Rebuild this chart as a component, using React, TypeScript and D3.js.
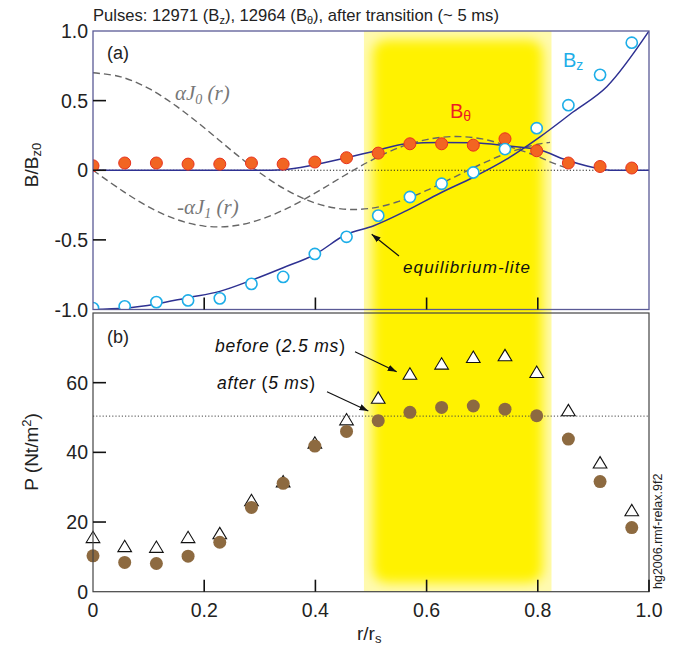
import React from "react";
import * as d3 from "d3";

// radial positions of the probe points (r/rs)
const rPts = [0, 0.057, 0.114, 0.171, 0.228, 0.285, 0.342, 0.399, 0.456, 0.513, 0.57, 0.627, 0.684, 0.741, 0.798, 0.855, 0.912, 0.969];

// panel (a) measured fields
const bTheta = [0.032, 0.052, 0.052, 0.044, 0.044, 0.052, 0.044, 0.059, 0.09, 0.123, 0.19, 0.19, 0.18, 0.226, 0.14, 0.052, 0.027, 0.016];
const bZ = [-0.99, -0.977, -0.947, -0.935, -0.92, -0.816, -0.766, -0.601, -0.478, -0.326, -0.192, -0.097, -0.016, 0.152, 0.302, 0.467, 0.685, 0.916];

// equilibrium-lite fits
const fitBzR = [0, 0.057, 0.114, 0.171, 0.228, 0.285, 0.342, 0.399, 0.456, 0.504, 0.564, 0.624, 0.684, 0.744, 0.804, 0.864, 0.924, 1.0];
const fitBz = [-1.0, -0.99, -0.96, -0.915, -0.87, -0.79, -0.7, -0.605, -0.46, -0.4, -0.29, -0.165, -0.05, 0.08, 0.24, 0.42, 0.6, 1.0];
const fitBtR = [0, 0.3, 0.342, 0.399, 0.456, 0.504, 0.564, 0.624, 0.684, 0.744, 0.804, 0.85, 0.9, 0.93, 1.0];
const fitBt = [0, 0, 0.004, 0.04, 0.09, 0.135, 0.19, 0.2, 0.197, 0.175, 0.145, 0.075, 0.02, 0.0, 0];

// dashed Bessel-like curves
const besselR = [0, 0.05, 0.1, 0.15, 0.2, 0.25, 0.3, 0.35, 0.4, 0.45, 0.5, 0.55, 0.6, 0.65, 0.7, 0.75, 0.8, 0.822, 0.852];
const aJ0 = [0.7, 0.671, 0.588, 0.46, 0.305, 0.139, -0.018, -0.147, -0.236, -0.279, -0.273, -0.224, -0.145, -0.049, 0.048, 0.13, 0.187, 0.2];
const mAJ1 = [0, -0.14, -0.263, -0.353, -0.401, -0.401, -0.355, -0.272, -0.163, -0.043, 0.07, 0.162, 0.22, 0.242, 0.225, 0.168, 0.099, 0.06, 0.016];

// panel (b) pressure
const pBefore = [15.5, 12.9, 12.7, 15.5, 16.6, 26.1, 31.5, 42.6, 49.3, 55.5, 62.4, 65.3, 67.2, 67.7, 62.9, 51.9, 36.9, 23.2];
const pAfter = [10.3, 8.4, 8.1, 10.2, 14.2, 24.2, 31.1, 41.8, 46.0, 49.1, 51.5, 52.9, 53.3, 52.4, 50.5, 43.8, 31.6, 18.4];
const pRef = 50.4;

const band = [0.487, 0.825];
const xTicks = [0, 0.2, 0.4, 0.6, 0.8, 1.0];
const aTicks = [-1, -0.5, 0, 0.5, 1];
const bTicks = [0, 20, 40, 60];

const W = 688;
const H = 645;
const FONT = "'Liberation Sans', Arial, Helvetica, sans-serif";
const SERIF = "'Liberation Serif', 'Times New Roman', serif";

// plain hyphen instead of d3's unicode minus, like the original
const fmt = (t: number) => (t === 0 ? "0" : d3.format(".1f")(t).replace("\u2212", "-"));

export default function App() {
  const x = d3.scaleLinear().domain([0, 1]).range([93, 649]);
  const ya = d3.scaleLinear().domain([-1, 1]).range([309.5, 31]);
  const yb = d3.scaleLinear().domain([0, 80]).range([591.7, 313]);

  const lineA = (rs: number[], vs: number[], curve = d3.curveMonotoneX) =>
    d3
      .line<number>()
      .x((_, i) => x(rs[i]))
      .y((v) => ya(v))
      .curve(curve)(vs) || "";

  const aTop = ya(1);
  const aBot = ya(-1);
  const bTop = yb(80);
  const bBot = yb(0);
  const bx0 = x(band[0]);
  const bx1 = x(band[1]);

  const tri = (cx: number, cy: number) => {
    const s = 6.5;
    return `M${cx},${cy - s}L${cx + s * 1.05},${cy + s * 0.75}L${cx - s * 1.05},${cy + s * 0.75}Z`;
  };

  return (
    <svg width={W} height={H} style={{ position: "absolute", left: 0, top: 0 }} fontFamily={FONT}>
      <defs>
        <clipPath id="bandClip">
          <rect x={bx0} y={aTop} width={bx1 - bx0} height={bBot - aTop} />
        </clipPath>
        <clipPath id="clipA">
          <rect x={x(0)} y={aTop} width={x(1) - x(0)} height={aBot - aTop} />
        </clipPath>
        <filter id="soft" x="-20%" y="-20%" width="140%" height="140%">
          <feGaussianBlur stdDeviation="6" />
        </filter>
        <marker id="arr" viewBox="0 0 10 10" refX="10" refY="5" markerWidth="9" markerHeight="9" orient="auto-start-reverse" markerUnits="userSpaceOnUse">
          <path d="M0,1.5L10,5L0,8.5Z" fill="#111" />
        </marker>
      </defs>

      {/* yellow highlight band across both panels */}
      <g clipPath="url(#bandClip)">
        <rect x={bx0} y={aTop} width={bx1 - bx0} height={bBot - aTop} fill="#fffab0" />
        <rect x={bx0 + 9} y={aTop + 9} width={bx1 - bx0 - 18} height={bBot - aTop - 18} rx={14} fill="#fff200" filter="url(#soft)" />
      </g>

      {/* title */}
      <text x={93} y={21} fontSize={16.6} fill="#222">
        Pulses: 12971 (B<tspan fontSize={11} dy={3}>z</tspan>
        <tspan dy={-3}>), 12964 (B</tspan>
        <tspan fontSize={11} dy={3}>θ</tspan>
        <tspan dy={-3}>), after transition (~ 5 ms)</tspan>
      </text>

      {/* ---------- panel (a) ---------- */}
      <line x1={x(0)} x2={x(1)} y1={ya(0)} y2={ya(0)} stroke="#222" strokeWidth={1} strokeDasharray="1.2,2" />

      <g clipPath="url(#clipA)">
        <path d={lineA(besselR.slice(0, aJ0.length), aJ0, d3.curveCatmullRom)} fill="none" stroke="#666" strokeWidth={1.4} strokeDasharray="7,4" />
        <path d={lineA(besselR, mAJ1, d3.curveCatmullRom)} fill="none" stroke="#666" strokeWidth={1.4} strokeDasharray="7,4" />
        <path d={lineA(fitBtR, fitBt)} fill="none" stroke="#2e3192" strokeWidth={1.5} />
        <path d={lineA(fitBzR, fitBz)} fill="none" stroke="#2e3192" strokeWidth={1.5} />
        {rPts.map((r, i) => (
          <circle key={"bt" + i} cx={x(r)} cy={ya(bTheta[i])} r={6} fill="#f26522" stroke="#e8321f" strokeWidth={1} />
        ))}
        {rPts.map((r, i) => (
          <circle key={"bz" + i} cx={x(r)} cy={ya(bZ[i])} r={5.6} fill="#fff" stroke="#1eaee8" strokeWidth={1.6} />
        ))}
      </g>

      <rect x={x(0)} y={aTop} width={x(1) - x(0)} height={aBot - aTop} fill="none" stroke="#5a5a96" strokeWidth={1.3} />
      {aTicks.map((t) => (
        <g key={"at" + t}>
          {t > -1 && t < 1 && <line x1={x(0)} x2={x(0) + 13} y1={ya(t)} y2={ya(t)} stroke="#111" strokeWidth={1.6} />}
          <text x={88} y={ya(t)} dy="0.36em" textAnchor="end" fontSize={19.5} fill="#222">
            {fmt(t)}
          </text>
        </g>
      ))}
      {xTicks.slice(1, -1).map((t) => (
        <line key={"axt" + t} x1={x(t)} x2={x(t)} y1={aBot} y2={aBot - 12} stroke="#111" strokeWidth={1.6} />
      ))}

      <text x={107} y={59} fontSize={18} fill="#222">(a)</text>

      <text x={175} y={100} fontSize={21} fill="#777" fontFamily={SERIF} fontStyle="italic">
        αJ<tspan fontSize={14} dy={4}>0</tspan>
        <tspan dy={-4}> (r)</tspan>
      </text>
      <text x={177} y={214} fontSize={21} fill="#777" fontFamily={SERIF} fontStyle="italic">
        -αJ<tspan fontSize={14} dy={4}>1</tspan>
        <tspan dy={-4}> (r)</tspan>
      </text>

      <text x={563} y={67} fontSize={20} fill="#1eaee8">
        B<tspan fontSize={14} dy={3}>z</tspan>
      </text>
      <text x={450} y={118} fontSize={20} fill="#ed1c24">
        B<tspan fontSize={14} dy={3}>θ</tspan>
      </text>

      <line x1={399} y1={256} x2={371.7} y2={234.3} stroke="#111" strokeWidth={1.2} markerEnd="url(#arr)" />
      <text x={403} y={273} fontSize={17} fontStyle="italic" fill="#111" textLength={127} lengthAdjust="spacing">
        equilibrium-lite
      </text>

      {/* ---------- panel (b) ---------- */}
      <line x1={x(0)} x2={x(1)} y1={yb(pRef)} y2={yb(pRef)} stroke="#444" strokeWidth={1} strokeDasharray="1.2,2" />

      {rPts.map((r, i) => (
        <path key={"pb" + i} d={tri(x(r), yb(pBefore[i]))} fill="#fff" stroke="#111" strokeWidth={1.1} />
      ))}
      {rPts.map((r, i) => (
        <circle key={"pa" + i} cx={x(r)} cy={yb(pAfter[i])} r={6.5} fill="#8d6a40" />
      ))}

      <rect x={x(0)} y={bTop} width={x(1) - x(0)} height={bBot - bTop} fill="none" stroke="#444" strokeWidth={1.2} />
      {bTicks.map((t) => (
        <g key={"bt" + t}>
          {t > 0 && <line x1={x(0)} x2={x(0) + 13} y1={yb(t)} y2={yb(t)} stroke="#111" strokeWidth={1.6} />}
          <text x={88} y={yb(t)} dy="0.36em" textAnchor="end" fontSize={19.5} fill="#222">
            {t}
          </text>
        </g>
      ))}
      {xTicks.map((t) => (
        <g key={"bxt" + t}>
          {t > 0 && <line x1={x(t)} x2={x(t)} y1={bBot} y2={bBot - 12} stroke="#111" strokeWidth={1.6} />}
          <text x={x(t)} y={617} textAnchor="middle" fontSize={19.5} fill="#222">
            {fmt(t)}
          </text>
        </g>
      ))}

      <text x={107} y={343} fontSize={18} fill="#222">(b)</text>

      <text x={215} y={352} fontSize={17.5} fontStyle="italic" fill="#111" textLength={130} lengthAdjust="spacing">
        before<tspan fontStyle="normal"> (</tspan>2.5 ms<tspan fontStyle="normal">)</tspan>
      </text>
      <line x1={355} y1={351.7} x2={396.7} y2={371.7} stroke="#111" strokeWidth={1.2} markerEnd="url(#arr)" />
      <text x={217} y={389} fontSize={17.5} fontStyle="italic" fill="#111" textLength={98} lengthAdjust="spacing">
        after<tspan fontStyle="normal"> (</tspan>5 ms<tspan fontStyle="normal">)</tspan>
      </text>
      <line x1={327} y1={391.7} x2={368.3} y2={411} stroke="#111" strokeWidth={1.2} markerEnd="url(#arr)" />

      {/* axis titles */}
      <text transform={`translate(38,165) rotate(-90)`} textAnchor="middle" fontSize={19} fill="#222">
        B/B<tspan fontSize={13} dy={3}>z0</tspan>
      </text>
      <text transform={`translate(38,452) rotate(-90)`} textAnchor="middle" fontSize={19} fill="#222">
        P (Nt/m<tspan fontSize={13} dy={-7}>2</tspan>
        <tspan dy={7}>)</tspan>
      </text>
      <text x={357} y={640} fontSize={19} fill="#222">
        r/r<tspan fontSize={13} dy={3}>s</tspan>
      </text>

      <text transform={`translate(662,589) rotate(-90)`} fontSize={12.5} fill="#222">
        hg2006.rmf-relax.9f2
      </text>
    </svg>
  );
}
